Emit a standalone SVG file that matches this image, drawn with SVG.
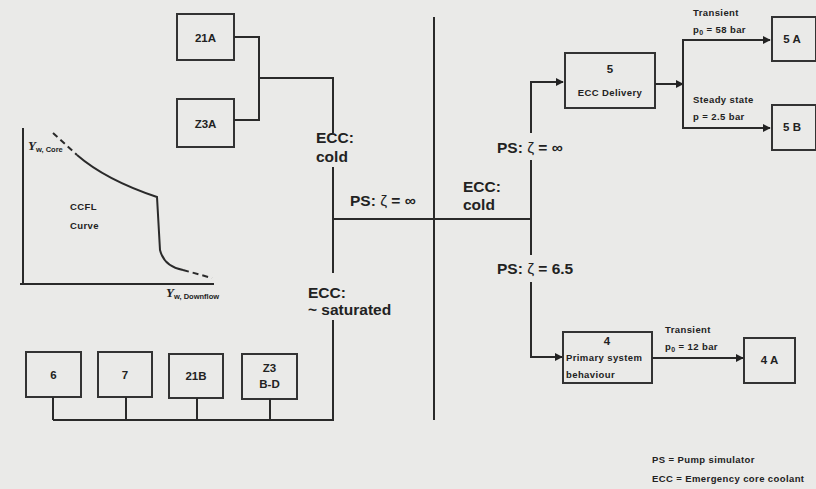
<svg xmlns="http://www.w3.org/2000/svg" width="816" height="489" viewBox="0 0 816 489">
<defs>
<style>
.bx{fill:none;stroke:#333;stroke-width:2}
.ln{fill:none;stroke:#2a2a2a;stroke-width:2}
.t{font-family:"Liberation Sans",Arial,sans-serif;font-weight:bold;fill:#222}
.big{font-size:15.5px}
.mid{font-size:11.5px}
.sm{font-size:9.5px;letter-spacing:0.4px}
</style>
<marker id="ah" viewBox="0 0 10 10" refX="9" refY="5" markerWidth="4" markerHeight="4" orient="auto">
<path d="M0,0 L10,5 L0,10 z" fill="#222"/>
</marker>
</defs>
<rect width="816" height="489" fill="#eaeae8"/>

<g id="divider"><line class="ln" x1="434" y1="17" x2="434" y2="420" stroke-width="1.6"/></g>

<g id="ccfl-plot">
<line class="ln" x1="23" y1="128" x2="23" y2="285" stroke-width="1.6"/>
<line class="ln" x1="20" y1="284" x2="214" y2="284" stroke-width="1.6"/>
<path class="ln" d="M53,133 L77,155" stroke-dasharray="6,4"/>
<path class="ln" d="M77,155 C100,175 130,188 157,197 L160,250 C163,262 172,268 183,270"/>
<path class="ln" d="M183,270 L212,278" stroke-dasharray="6,4"/>
<text class="t mid" x="28" y="150"><tspan font-style="italic" font-family="Liberation Serif,serif" font-size="13">Y</tspan><tspan font-size="7.5" dy="2">w, Core</tspan></text>
<text class="t mid" x="166" y="297"><tspan font-style="italic" font-family="Liberation Serif,serif" font-size="13">Y</tspan><tspan font-size="7.5" dy="2">w, Downflow</tspan></text>
<text class="t sm" x="70" y="210">CCFL</text>
<text class="t sm" x="70" y="229">Curve</text>
</g>

<g id="n21A"><rect class="bx" x="177" y="14" width="57" height="46"/><text class="t mid" x="205.5" y="42" text-anchor="middle">21A</text></g>
<g id="nZ3A"><rect class="bx" x="177" y="99" width="57" height="48"/><text class="t mid" x="205.5" y="128" text-anchor="middle">Z3A</text></g>

<g id="n6"><rect class="bx" x="26" y="352" width="55" height="45"/><text class="t mid" x="53.5" y="379" text-anchor="middle">6</text></g>
<g id="n7"><rect class="bx" x="98" y="352" width="54" height="45"/><text class="t mid" x="125" y="379" text-anchor="middle">7</text></g>
<g id="n21B"><rect class="bx" x="169" y="354" width="54" height="44"/><text class="t mid" x="196" y="380" text-anchor="middle">21B</text></g>
<g id="nZ3BD"><rect class="bx" x="242" y="354" width="55" height="45"/><text class="t mid" x="269.5" y="372" text-anchor="middle">Z3</text><text class="t mid" x="269.5" y="388" text-anchor="middle">B-D</text></g>

<g id="n5"><rect class="bx" x="565" y="53" width="90" height="55"/><text class="t mid" x="610" y="73" text-anchor="middle">5</text><text class="t sm" x="610" y="96" text-anchor="middle">ECC Delivery</text></g>
<g id="n5A"><rect class="bx" x="772" y="17" width="44" height="44"/><text class="t mid" x="792" y="43" text-anchor="middle">5 A</text></g>
<g id="n5B"><rect class="bx" x="772" y="105" width="44" height="45"/><text class="t mid" x="792" y="131" text-anchor="middle">5 B</text></g>
<g id="n4"><rect class="bx" x="563" y="332" width="89" height="51"/><text class="t mid" x="607" y="345" text-anchor="middle">4</text><text class="t sm" x="566" y="361">Primary system</text><text class="t sm" x="566" y="378">behaviour</text></g>
<g id="n4A"><rect class="bx" x="744" y="338" width="51" height="45"/><text class="t mid" x="769.5" y="364" text-anchor="middle">4 A</text></g>

<g id="connectors">
<polyline class="ln" points="234,37 259,37 259,120 234,120"/>
<polyline class="ln" points="259,78 333,78 333,133"/>
<line class="ln" x1="333" y1="167" x2="333" y2="273"/>
<polyline class="ln" points="333,320 333,420 53,420"/>
<line class="ln" x1="53" y1="397" x2="53" y2="420"/>
<line class="ln" x1="126" y1="397" x2="126" y2="420"/>
<line class="ln" x1="197" y1="398" x2="197" y2="420"/>
<line class="ln" x1="270" y1="399" x2="270" y2="420"/>
<line class="ln" x1="333" y1="219" x2="531" y2="219"/>
<polyline class="ln" points="531,133 531,82 563,82" marker-end="url(#ah)"/>
<line class="ln" x1="531" y1="160" x2="531" y2="255"/>
<polyline class="ln" points="531,282 531,357 562,357" marker-end="url(#ah)"/>
<line class="ln" x1="655" y1="84" x2="683" y2="84" marker-end="url(#ah)"/>
<polyline class="ln" points="683,40 683,128 770,128" marker-end="url(#ah)"/>
<line class="ln" x1="682" y1="40" x2="770" y2="40" marker-end="url(#ah)"/>
<line class="ln" x1="652" y1="358" x2="743" y2="358" marker-end="url(#ah)"/>
</g>

<g id="labels">
<text class="t big" x="316" y="143">ECC:</text>
<text class="t big" x="316" y="162">cold</text>
<text class="t big" x="350" y="206">PS: <tspan font-weight="normal">ζ</tspan> = ∞</text>
<text class="t big" x="463" y="192">ECC:</text>
<text class="t big" x="463" y="210">cold</text>
<text class="t big" x="497" y="153">PS: <tspan font-weight="normal">ζ</tspan> = ∞</text>
<text class="t big" x="497" y="274">PS: <tspan font-weight="normal">ζ</tspan> = 6.5</text>
<text class="t big" x="308" y="298">ECC:</text>
<text class="t big" x="308" y="315">~ saturated</text>
<text class="t sm" x="693" y="16">Transient</text>
<text class="t sm" x="693" y="33">p<tspan font-size="7" dy="2">0</tspan><tspan dy="-2"> = 58 bar</tspan></text>
<text class="t sm" x="693" y="103">Steady state</text>
<text class="t sm" x="693" y="120">p = 2.5 bar</text>
<text class="t sm" x="665" y="333">Transient</text>
<text class="t sm" x="665" y="350">p<tspan font-size="7" dy="2">0</tspan><tspan dy="-2"> = 12 bar</tspan></text>
<text class="t sm" x="652" y="463">PS = Pump simulator</text>
<text class="t sm" x="652" y="482">ECC = Emergency core coolant</text>
</g>
</svg>
